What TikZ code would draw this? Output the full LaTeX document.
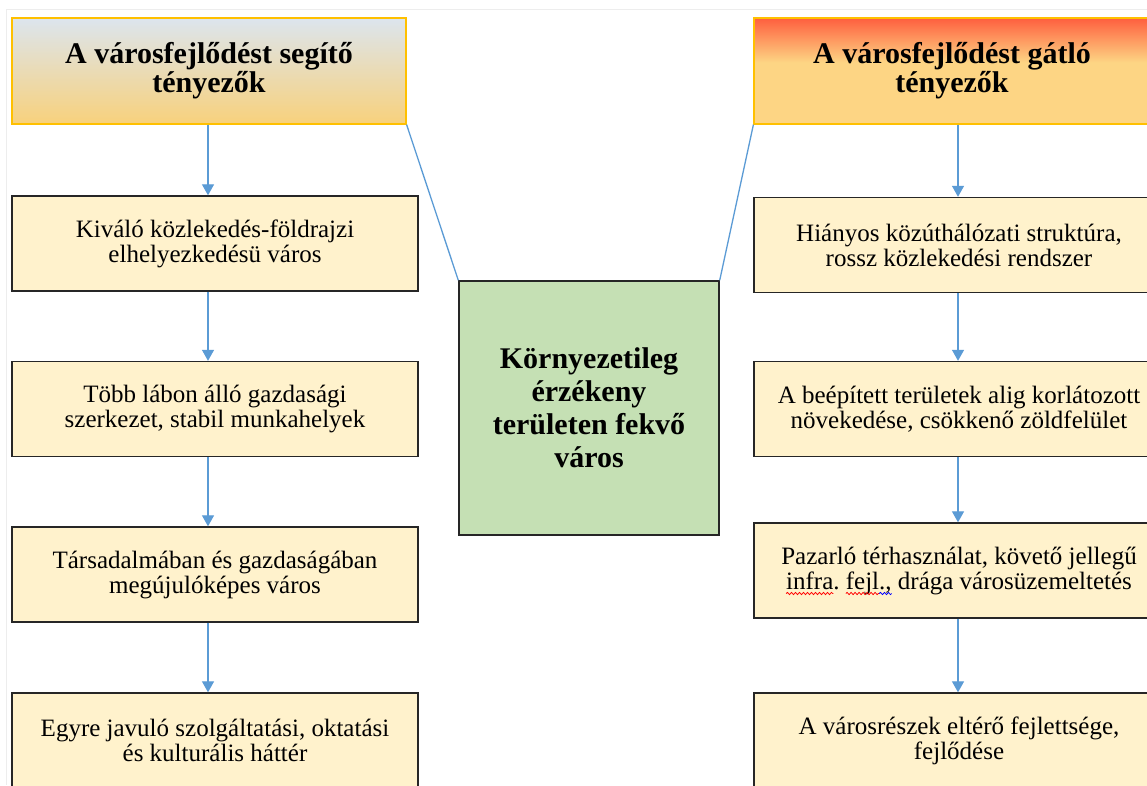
\documentclass[tikz,border=0pt]{standalone}
\usepackage{fontspec}
\setmainfont{Liberation Serif}
\usetikzlibrary{arrows.meta,shadings,decorations.pathmorphing}
\definecolor{boxfill}{HTML}{FFF2CC}
\definecolor{boxline}{HTML}{262626}
\definecolor{hdrline}{HTML}{FFC000}
\definecolor{hdrorange}{HTML}{FDD584}
\definecolor{hdrorangeB}{HTML}{F8D17C}
\definecolor{hdrblue}{HTML}{DCE5EE}
\definecolor{hdrred}{HTML}{FF1010}
\definecolor{midgreen}{HTML}{C5E0B4}
\definecolor{arrowblue}{HTML}{5B9BD5}
\pgfdeclareverticalshading{redhead}{100bp}{color(0bp)=(hdrorange); color(54bp)=(hdrorange); color(89bp)=(hdrred); color(100bp)=(hdrred)}
\newcommand\wavy[2]{\setbox0\hbox{#2}\copy0\hbox to 0pt{\tikz[overlay,baseline=0pt]{\draw[#1, line width=0.8pt, decorate, decoration={snake,amplitude=1.1pt,segment length=4pt}] (-\wd0,-4.5pt) -- (0pt,-4.5pt);}\hss}}
\frenchspacing
\begin{document}
\frenchspacing
\begin{tikzpicture}[x=1pt,y=-1pt,
  hdr/.style={draw=hdrline, line width=1.2pt, minimum width=394pt, minimum height=106pt, align=center, inner sep=0pt,
    font=\bfseries\fontsize{30}{29}\selectfont},
  itembox/.style={draw=boxline, fill=boxfill, line width=1.4pt, minimum width=406pt, minimum height=95pt, align=center, inner sep=0pt,
    font=\fontsize{25}{25}\selectfont\frenchspacing},
  flow/.style={draw=arrowblue, line width=1.3pt, -{Triangle[width=12pt,length=11pt]}},
  link/.style={draw=arrowblue, line width=1.3pt}]
\useasboundingbox (0,0) rectangle (1147,785);
\clip (0,0) rectangle (1147,785);
\fill[white] (0,0) rectangle (1147,785);
\draw[black!7, line width=1pt] (6,785) -- (6,9) -- (1147,9);
% headers
\node[hdr, top color=hdrblue, bottom color=hdrorangeB] (hl) at (209,71) {A városfejlődést segítő\\tényezők};
\node[hdr, shading=redhead, minimum width=396pt] (hr) at (952,71) {A városfejlődést gátló\\tényezők};
% centre
\node[draw=boxline, fill=midgreen, line width=1.4pt, minimum width=260pt, minimum height=254pt, align=center,
  font=\bfseries\fontsize{30}{33}\selectfont] (c) at (589,408) {Környezetileg\\érzékeny\\területen fekvő\\város};
% left items
\node[itembox] (l1) at (215,243.5) {Kiváló közlekedés-földrajzi\\elhelyezkedésü város};
\node[itembox] (l2) at (215,409) {Több lábon álló gazdasági\\szerkezet, stabil munkahelyek};
\node[itembox] (l3) at (215,574.5) {Társadalmában és gazdaságában\\megújulóképes város};
\node[itembox] (l4) at (215,740.5) {Egyre javuló szolgáltatási, oktatási\\és kulturális háttér};
% right items
\node[itembox, minimum width=410pt] (r1) at (959,245) {Hiányos közúthálózati struktúra,\\rossz közlekedési rendszer};
\node[itembox, minimum width=410pt] (r2) at (959,409) {A beépített területek alig korlátozott\\növekedése, csökkenő zöldfelület};
\node[itembox, minimum width=410pt] (r3) at (959,570.5) {Pazarló térhasználat, követő jellegű\\\wavy{red}{infra}. \wavy{red}{fejl}\wavy{blue}{.,} drága városüzemeltetés};
\node[itembox, minimum width=410pt] (r4) at (959,740.5) {A városrészek eltérő fejlettsége,\\fejlődése};
% connectors
\draw[link] (hl.south east) -- (c.north west);
\draw[link] (hr.south west) -- (c.north east);
\coordinate (la) at (208,0);
\coordinate (ra) at (958,0);
\draw[flow] (hl.south -| la) -- (l1.north -| la);
\draw[flow] (l1.south -| la) -- (l2.north -| la);
\draw[flow] (l2.south -| la) -- (l3.north -| la);
\draw[flow] (l3.south -| la) -- (l4.north -| la);
\draw[flow] (hr.south -| ra) -- (r1.north -| ra);
\draw[flow] (r1.south -| ra) -- (r2.north -| ra);
\draw[flow] (r2.south -| ra) -- (r3.north -| ra);
\draw[flow] (r3.south -| ra) -- (r4.north -| ra);
\end{tikzpicture}
\end{document}
